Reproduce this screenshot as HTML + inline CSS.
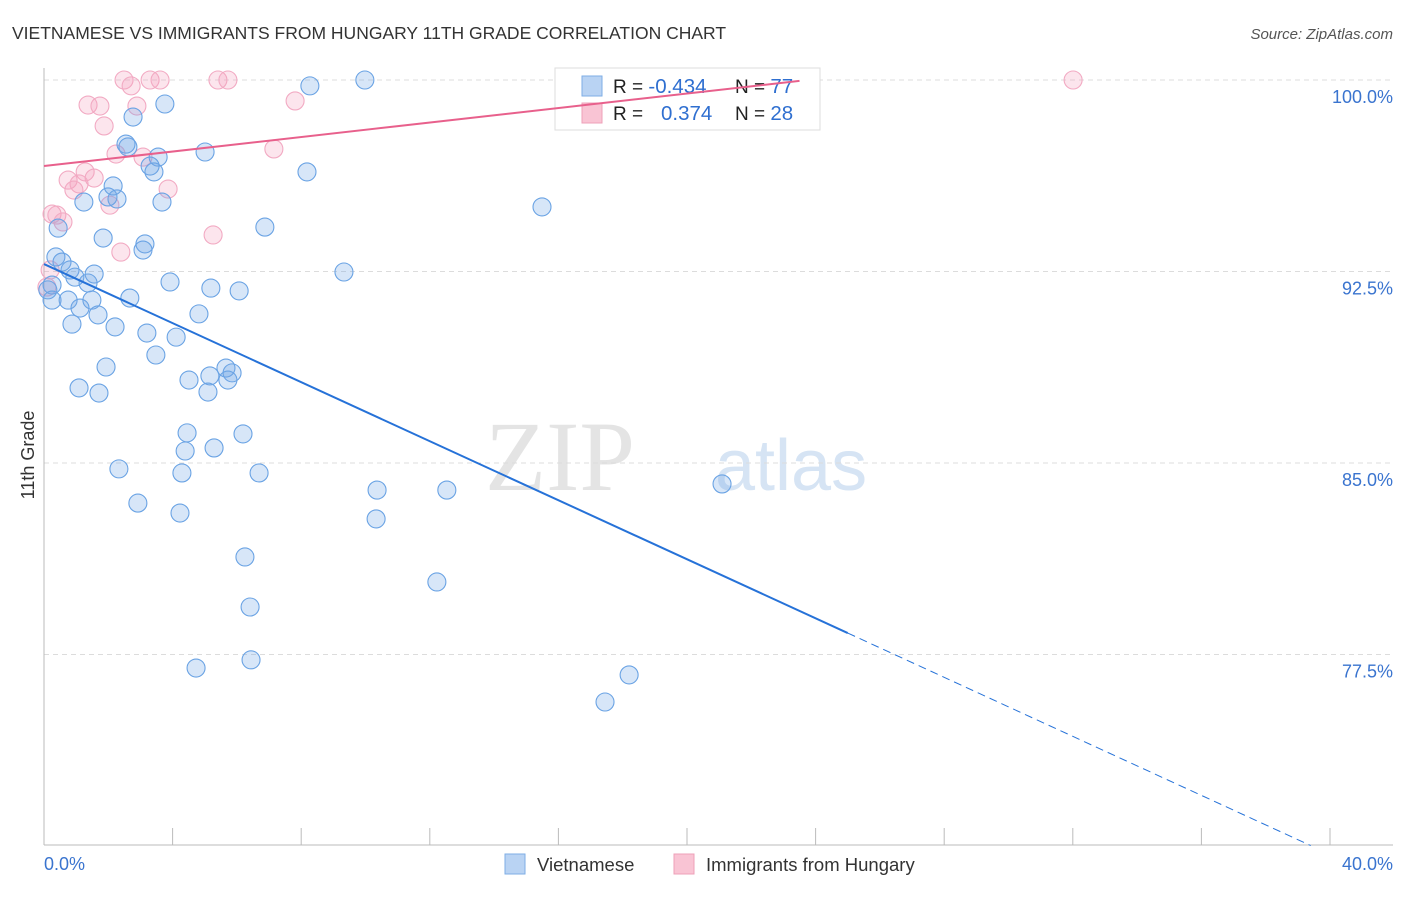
<!DOCTYPE html>
<html><head><meta charset="utf-8"><style>
body{margin:0;background:#fff;font-family:"Liberation Sans",sans-serif;}
svg text{font-family:"Liberation Sans",sans-serif;}
</style></head><body>
<svg id="c" width="1406" height="892" xmlns="http://www.w3.org/2000/svg">
<text x="12" y="39" font-size="17.5" fill="#333">VIETNAMESE VS IMMIGRANTS FROM HUNGARY 11TH GRADE CORRELATION CHART</text>
<text x="1393" y="39" font-size="15" fill="#555" text-anchor="end" font-style="italic">Source: ZipAtlas.com</text>
<text x="635" y="490" font-size="100" fill="#e4e4e4" text-anchor="end" style="font-family:'Liberation Serif',serif">ZIP</text>
<text x="715" y="490" font-size="72" fill="#d6e4f4">atlas</text>
<g id="grid"></g><g id="axes"></g>
<g>
<rect x="555" y="68" width="265" height="62" fill="#fff" stroke="#ddd"/>
<rect x="582" y="76" width="20" height="20" fill="#b9d3f3" stroke="#7eaee6"/>
<rect x="582" y="103" width="20" height="20" fill="#f9c4d4" stroke="#eea0b8"/>
<text x="613" y="93" font-size="19" fill="#222">R = <tspan fill="#2f6fd0" font-size="20.5">-0.434</tspan></text>
<text x="735" y="93" font-size="19" fill="#222">N = <tspan fill="#2f6fd0" font-size="20.5">77</tspan></text>
<text x="613" y="120" font-size="19" fill="#222">R = <tspan fill="#2f6fd0" x="661" font-size="20.5">0.374</tspan></text>
<text x="735" y="120" font-size="19" fill="#222">N = <tspan fill="#2f6fd0" font-size="20.5">28</tspan></text>
</g>
<g id="marks"></g>
<g>
<rect x="505" y="854" width="20" height="20" fill="#b9d3f3" stroke="#7eaee6"/>
<text x="537" y="871" font-size="18.5" fill="#333">Vietnamese</text>
<rect x="674" y="854" width="20" height="20" fill="#f9c4d4" stroke="#eea0b8"/>
<text x="706" y="871" font-size="18.5" fill="#333">Immigrants from Hungary</text>
</g>
<text transform="translate(34,455) rotate(-90)" font-size="18" fill="#333" text-anchor="middle">11th Grade</text>
</svg>
<script>
const yTicks=[100,92.5,85,77.5];
const yTickLabels=["100.0%","92.5%","85.0%","77.5%"];
const xTicks=[0,4,8,12,16,20,24,28,32,36,40];
const xEndLabels=["0.0%","40.0%"];
const blueX=[9.98,8.27,3.76,2.77,2.55,2.61,3.55,3.30,3.42,5.01,8.18,2.15,1.99,2.27,1.24,3.67,15.49,6.87,0.44,1.84,3.14,3.08,0.37,0.56,0.81,0.96,1.56,1.37,9.33,3.92,5.19,6.07,0.25,0.12,0.25,0.75,1.49,2.67,1.12,1.68,4.82,0.87,2.21,3.20,4.11,3.48,1.93,5.66,5.16,5.85,5.72,4.51,5.10,1.09,1.71,4.45,6.19,4.39,5.29,2.33,4.29,6.69,10.36,12.53,21.09,2.92,4.23,10.33,6.25,12.22,6.41,6.44,4.73,18.20,17.45];
const blueY=[100,99.77,99.06,98.55,97.49,97.38,96.98,96.63,96.40,97.18,96.40,95.85,95.42,95.34,95.22,95.22,95.03,94.24,94.20,93.81,93.58,93.34,93.07,92.87,92.56,92.28,92.40,92.05,92.48,92.09,91.85,91.74,91.97,91.78,91.38,91.38,91.38,91.46,91.07,90.80,90.84,90.44,90.33,90.09,89.93,89.23,88.76,88.72,88.41,88.53,88.25,88.25,87.78,87.94,87.74,86.18,86.14,85.47,85.59,84.77,84.61,84.61,83.94,83.94,84.18,83.43,83.04,82.81,81.32,80.34,79.36,77.29,76.97,76.70,75.64];
const pinkX=[2.49,3.30,3.61,5.41,5.72,32.01,2.71,1.37,1.74,2.89,7.81,1.87,2.24,3.08,7.15,1.28,0.75,1.56,1.09,0.93,3.86,2.05,0.25,0.40,0.59,5.26,2.39,0.19,0.09];
const pinkY=[100,100,100,100,100,100,99.77,99.02,98.98,98.98,99.18,98.20,97.10,96.98,97.30,96.40,96.08,96.16,95.93,95.69,95.73,95.10,94.75,94.71,94.44,93.93,93.26,92.56,91.89];
const blueTrend=[92.79,-0.578];
const pinkTrend=[96.63,0.142];
const NS="http://www.w3.org/2000/svg";
const X=v=>44+v/40*1286;
const Y=v=>80+(100-v)/7.5*191.5;
function mk(tag,attrs,parent){const e=document.createElementNS(NS,tag);for(const k in attrs)e.setAttribute(k,attrs[k]);parent.appendChild(e);return e;}
const grid=document.getElementById('grid'),axes=document.getElementById('axes'),marks=document.getElementById('marks');
yTicks.forEach((t,i)=>{
 const l=mk('line',{x1:44,x2:1393,y1:Y(t),y2:Y(t),stroke:'#dcdcdc','stroke-dasharray':'5,4'},grid);
 
 
 const tx=mk('text',{x:1393,y:Y(t)+23,'font-size':18,fill:'#3a74cf','text-anchor':'end'},axes);
 tx.textContent=yTickLabels[i];
 
 
});
const ya=mk('line',{x1:44,x2:44,y1:68,y2:845,stroke:'#bbb'},axes);


const xa=mk('line',{x1:44,x2:1393,y1:845,y2:845,stroke:'#bbb'},axes);


xTicks.forEach(t=>{
 const l=mk('line',{x1:X(t),x2:X(t),y1:828,y2:845,stroke:'#bbb'},axes);
 
 
});
[[0,'start',44],[40,'end',1393]].forEach((d,i)=>{
 const tx=mk('text',{x:d[2],y:870,'font-size':18,fill:'#3a74cf','text-anchor':d[1]},axes);
 tx.textContent=xEndLabels[i];
 
 
});
pinkX.forEach((x,i)=>{
 const c=mk('circle',{cx:X(x),cy:Y(pinkY[i]),r:9,fill:'rgba(244,160,190,0.28)',stroke:'#f2aac3','stroke-width':1.1},marks);
 
 
});
blueX.forEach((x,i)=>{
 const c=mk('circle',{cx:X(x),cy:Y(blueY[i]),r:9,fill:'rgba(110,165,230,0.28)',stroke:'#6aa3e4','stroke-width':1.1},marks);
 
 
});
const bt=x=>blueTrend[0]+blueTrend[1]*x, pt=x=>pinkTrend[0]+pinkTrend[1]*x;
const b1=mk('line',{x1:X(0),y1:Y(bt(0)),x2:X(25),y2:Y(bt(25)),stroke:'#2672d8','stroke-width':2},marks);


const b2=mk('line',{x1:X(25),y1:Y(bt(25)),x2:X(39.4),y2:Y(bt(39.4)),stroke:'#2672d8','stroke-width':1,'stroke-dasharray':'8,5'},marks);


const p1=mk('line',{x1:X(0),y1:Y(pt(0)),x2:X(23.5),y2:Y(pt(23.5)),stroke:'#e8608c','stroke-width':2},marks);


</script>
</body></html>
